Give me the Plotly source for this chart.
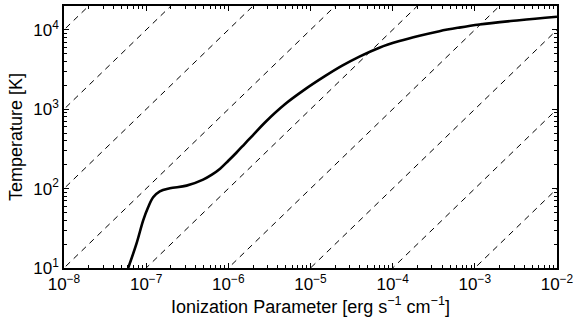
import plotly.graph_objects as go

# Solid curve: ionization parameter vs temperature
xi = [6.04e-8, 7.64e-8, 9.20e-8, 1.057e-7, 1.216e-7, 1.466e-7, 1.941e-7, 3.10e-7,
      4.93e-7, 6.31e-7, 7.94e-7, 1.0e-6, 1.26e-6, 1.585e-6, 2.0e-6, 2.77e-6,
      4.84e-6, 8.47e-6, 1.48e-5, 2.40e-5, 3.94e-5, 6.90e-5, 1.21e-4, 2.12e-4,
      3.71e-4, 6.19e-4, 1.135e-3, 3.48e-3, 1.0e-2]
temp = [10, 20.4, 39.8, 58.3, 77.8, 92.5, 100.9, 109.0,
        130, 150, 178, 224, 285, 367, 473, 676,
        1146, 1762, 2585, 3508, 4597, 5957, 7211, 8414,
        9616, 10590, 11670, 13210, 14620]

# Dashed reference lines T = C * xi
line_consts = [1e4, 1e5, 1e6, 1e7, 1e8, 1e9, 1e10, 1e11, 1e12]
line_xi = [1e-10, 1e0]

x_ticks = [1e-8, 1e-7, 1e-6, 1e-5, 1e-4, 1e-3, 1e-2]
x_ticktext = ["10<sup>\u22128</sup>", "10<sup>\u22127</sup>", "10<sup>\u22126</sup>",
              "10<sup>\u22125</sup>", "10<sup>\u22124</sup>", "10<sup>\u22123</sup>",
              "10<sup>\u22122</sup>"]
y_ticks = [10, 100, 1000, 10000]
y_ticktext = ["10<sup>1</sup>", "10<sup>2</sup>", "10<sup>3</sup>", "10<sup>4</sup>"]

x_minor = [m * d for d in x_ticks[:-1] for m in range(2, 10)]
y_minor = [m * d for d in y_ticks for m in range(2, 10)]

x_range = [-8, -2]
y_range = [1, 4.3]

fig = go.Figure()
for c in line_consts:
    fig.add_trace(go.Scatter(x=line_xi, y=[c * v for v in line_xi], mode="lines",
                             line=dict(color="black", width=1, dash="6px,5px"),
                             hoverinfo="skip", showlegend=False))
fig.add_trace(go.Scatter(x=xi, y=temp, mode="lines",
                         line=dict(color="black", width=2.6, shape="spline", smoothing=1.0),
                         showlegend=False))
# invisible trace to carry the minor-tick overlay axes
fig.add_trace(go.Scatter(x=[x_ticks[0]], y=[y_ticks[0]], xaxis="x2", yaxis="y2",
                         mode="markers", marker=dict(opacity=0), hoverinfo="skip",
                         showlegend=False))

font = "Liberation Sans, Arial, sans-serif"
fig.update_layout(
    width=578, height=324,
    margin=dict(l=64, r=20, t=4, b=56),
    plot_bgcolor="white", paper_bgcolor="white",
    font=dict(family=font, size=17, color="black"),
    showlegend=False,
)
common = dict(type="log", tickmode="array", ticks="inside", ticklen=5, tickwidth=1,
              tickcolor="black", showline=True, linecolor="black", linewidth=1.5,
              mirror="ticks", showgrid=False, zeroline=False, tickfont=dict(size=17))
fig.update_layout(
    xaxis=dict(range=x_range, tickvals=x_ticks, ticktext=x_ticktext,
               title=dict(text="Ionization Parameter [erg s<sup>\u22121</sup> cm<sup>\u22121</sup>]",
                          font=dict(size=18), standoff=4),
               **common),
    yaxis=dict(range=y_range, tickvals=y_ticks, ticktext=y_ticktext,
               title=dict(text="Temperature [K]", font=dict(size=18), standoff=6),
               **common),
    xaxis2=dict(type="log", range=x_range, overlaying="x", anchor="y2", side="bottom",
                tickmode="array", tickvals=x_minor, ticks="inside", ticklen=3,
                tickwidth=1, tickcolor="black", showticklabels=False, showgrid=False,
                zeroline=False, showline=False, mirror="ticks"),
    yaxis2=dict(type="log", range=y_range, overlaying="y", anchor="x2", side="left",
                tickmode="array", tickvals=y_minor, ticks="inside", ticklen=3,
                tickwidth=1, tickcolor="black", showticklabels=False, showgrid=False,
                zeroline=False, showline=False, mirror="ticks"),
)

fig.write_html("out.html")
